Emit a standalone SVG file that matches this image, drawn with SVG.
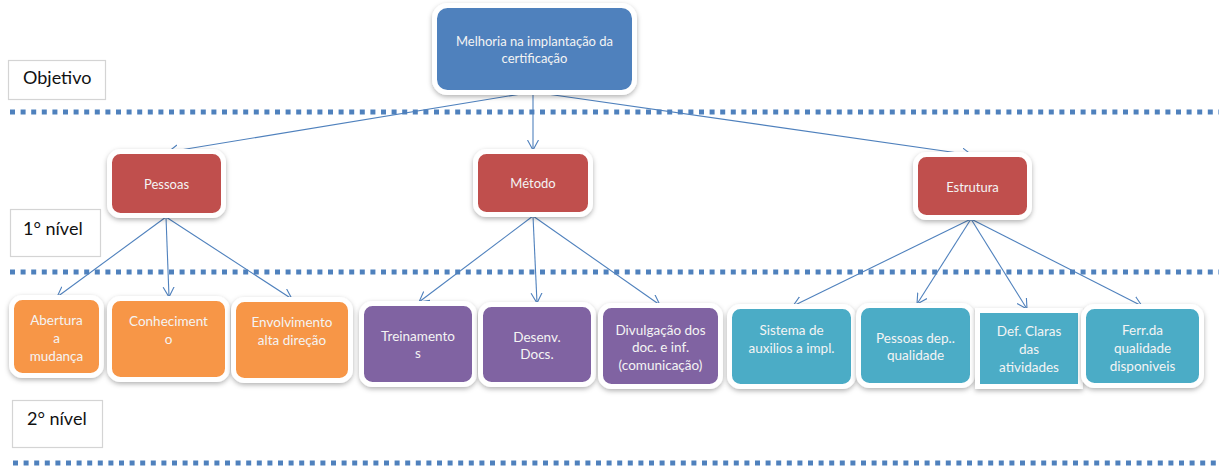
<svg xmlns="http://www.w3.org/2000/svg" width="1219" height="466" viewBox="0 0 1219 466">
  <style>
    .bg { fill: #ffffff; }
    .sep { stroke: #4f81bd; stroke-width: 5; stroke-dasharray: 5 5.6; fill: none; }
    .lbl { fill: #ffffff; stroke: #d4d4d4; stroke-width: 1.2; }
    .lbl-t { font-family: Lato, "Liberation Sans", sans-serif; font-size: 18px; fill: #111111; }
    .box { stroke: #ffffff; stroke-width: 5; filter: url(#shadow); }
    .blue { fill: #4f81bd; }
    .red { fill: #c0504d; }
    .orange { fill: #f79646; }
    .purple { fill: #8064a2; }
    .teal { fill: #4bacc6; }
    .t { font-family: Lato, "Liberation Sans", sans-serif; font-size: 13px; fill: #f4f4f4; text-anchor: middle; }
    .t2 { font-family: Lato, "Liberation Sans", sans-serif; font-size: 13.5px; fill: #f4f4f4; text-anchor: middle; }
    .edge { stroke: #4f81bd; stroke-width: 1.1; fill: none; marker-end: url(#arrow); }
  </style>
  <defs>
    <filter id="shadow" x="-20%" y="-20%" width="140%" height="150%">
      <feDropShadow dx="0" dy="2" stdDeviation="2.5" flood-color="#000000" flood-opacity="0.3"/>
    </filter>
    <marker id="arrow" markerUnits="userSpaceOnUse" markerWidth="14" markerHeight="14" refX="10" refY="6" orient="auto">
      <path d="M0,0.5 L10,6 L0,11.5" fill="none" stroke="#4f81bd" stroke-width="1.1"/>
    </marker>
  </defs>

  <rect class="bg" x="0" y="0" width="1219" height="466"/>

  <!-- level separators -->
  <g id="separators">
    <line class="sep" x1="10" y1="112" x2="1219" y2="112"/>
    <line class="sep" x1="10" y1="272" x2="1219" y2="272"/>
    <line class="sep" x1="13" y1="463" x2="1219" y2="463"/>
  </g>

  <!-- level labels -->
  <g id="label-objetivo">
    <rect class="lbl" x="8.5" y="60.5" width="97" height="39"/>
    <text class="lbl-t" x="23" y="84">Objetivo</text>
  </g>
  <g id="label-nivel1">
    <rect class="lbl" x="10.5" y="209.5" width="90" height="47"/>
    <text class="lbl-t" x="23" y="235">1° nível</text>
  </g>
  <g id="label-nivel2">
    <rect class="lbl" x="12.5" y="400.5" width="90" height="47"/>
    <text class="lbl-t" x="27" y="425">2° nível</text>
  </g>

  <!-- connectors -->
  <g id="connectors">
    <line class="edge" x1="533" y1="92" x2="168" y2="152"/>
    <line class="edge" x1="533" y1="92" x2="533" y2="150"/>
    <line class="edge" x1="533" y1="92" x2="972" y2="155"/>

    <line class="edge" x1="166" y1="217" x2="57" y2="297"/>
    <line class="edge" x1="166" y1="217" x2="169" y2="297"/>
    <line class="edge" x1="166" y1="217" x2="292" y2="299"/>

    <line class="edge" x1="533" y1="216" x2="419" y2="302"/>
    <line class="edge" x1="533" y1="216" x2="537" y2="303"/>
    <line class="edge" x1="533" y1="216" x2="660" y2="305"/>

    <line class="edge" x1="971" y1="219" x2="793" y2="306"/>
    <line class="edge" x1="971" y1="219" x2="917" y2="304"/>
    <line class="edge" x1="971" y1="219" x2="1027" y2="309"/>
    <line class="edge" x1="971" y1="219" x2="1142" y2="306"/>
  </g>

  <!-- objective -->
  <g id="n-melhoria">
    <rect class="box blue" x="434.5" y="5.5" width="200" height="87" rx="13"/>
    <text class="t" x="534.5" y="45.5">Melhoria na implantação da</text>
    <text class="t" x="534.5" y="62.5">certificação</text>
  </g>

  <!-- level 1 -->
  <g id="n-pessoas">
    <rect class="box red" x="109.5" y="151.5" width="114" height="64" rx="11"/>
    <text class="t" x="166.5" y="188.5">Pessoas</text>
  </g>
  <g id="n-metodo">
    <rect class="box red" x="475.5" y="151.5" width="115" height="63" rx="11"/>
    <text class="t" x="533" y="187.5">Método</text>
  </g>
  <g id="n-estrutura">
    <rect class="box red" x="915.5" y="154.5" width="114" height="63" rx="11"/>
    <text class="t" x="972.5" y="191.5">Estrutura</text>
  </g>

  <!-- level 2: Pessoas -->
  <g id="n-abertura">
    <rect class="box orange" x="11.5" y="297.5" width="90" height="78" rx="11"/>
    <text class="t2" x="56.5" y="325">Abertura</text>
    <text class="t2" x="56.5" y="343">a</text>
    <text class="t2" x="56.5" y="361">mudança</text>
  </g>
  <g id="n-conhecimento">
    <rect class="box orange" x="109.5" y="298.5" width="118" height="81" rx="11"/>
    <text class="t2" x="168.5" y="326">Conheciment</text>
    <text class="t2" x="168.5" y="344">o</text>
  </g>
  <g id="n-envolvimento">
    <rect class="box orange" x="233.5" y="299.5" width="117" height="81" rx="11"/>
    <text class="t2" x="292" y="327">Envolvimento</text>
    <text class="t2" x="292" y="345">alta direção</text>
  </g>

  <!-- level 2: Método -->
  <g id="n-treinamentos">
    <rect class="box purple" x="361.5" y="303.5" width="113" height="81" rx="11"/>
    <text class="t2" x="418" y="341">Treinamento</text>
    <text class="t2" x="418" y="358">s</text>
  </g>
  <g id="n-desenv">
    <rect class="box purple" x="480.5" y="304.5" width="113" height="80" rx="11"/>
    <text class="t2" x="537" y="342">Desenv.</text>
    <text class="t2" x="537" y="359">Docs.</text>
  </g>
  <g id="n-divulgacao">
    <rect class="box purple" x="600.5" y="305.5" width="120" height="81" rx="11"/>
    <text class="t2" x="660.5" y="335">Divulgação dos</text>
    <text class="t2" x="660.5" y="352">doc. e inf.</text>
    <text class="t2" x="660.5" y="370">(comunicação)</text>
  </g>

  <!-- level 2: Estrutura -->
  <g id="n-sistema">
    <rect class="box teal" x="729.5" y="306.5" width="124" height="80" rx="11"/>
    <text class="t2" x="791.5" y="335">Sistema de</text>
    <text class="t2" x="791.5" y="353">auxilios a impl.</text>
  </g>
  <g id="n-pessoas-dep">
    <rect class="box teal" x="858.5" y="305.5" width="114" height="80" rx="11"/>
    <text class="t2" x="915.5" y="343">Pessoas dep..</text>
    <text class="t2" x="915.5" y="360">qualidade</text>
  </g>
  <g id="n-def-claras">
    <rect class="box teal" x="977.5" y="310.5" width="103" height="76"/>
    <text class="t2" x="1029" y="336">Def. Claras</text>
    <text class="t2" x="1029" y="354">das</text>
    <text class="t2" x="1029" y="372">atividades</text>
  </g>
  <g id="n-ferr">
    <rect class="box teal" x="1083.5" y="306.5" width="118" height="79" rx="11"/>
    <text class="t2" x="1142.5" y="335">Ferr.da</text>
    <text class="t2" x="1142.5" y="353">qualidade</text>
    <text class="t2" x="1142.5" y="371">disponiveis</text>
  </g>
</svg>
